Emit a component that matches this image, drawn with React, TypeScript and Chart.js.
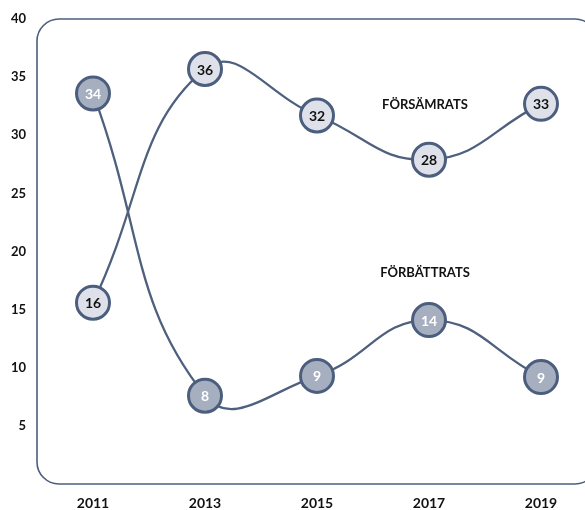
import React, { useEffect, useRef } from "react";
import { Chart, registerables } from "chart.js";
Chart.register(...registerables);

const years = ["2011", "2013", "2015", "2017", "2019"];
const forsamrats = [15.6, 35.7, 31.7, 27.9, 32.7];
const forbattrats = [33.6, 7.6, 9.3, 14.1, 9.2];
const seriesNames = ["FÖRSÄMRATS", "FÖRBÄTTRATS"];
const seriesLabelAnchor = [
  { xIndex: 3, y: 32.6 },
  { xIndex: 3, y: 18.2 },
];
const yMin = 0;
const yMax = 40;
const yStep = 5;

const LINE = "#4f607e";
const BORDER = "#4c5e7e";
const LIGHT = "#dee1e9";
const DARK = "#a6afbf";
const FONT = "Lato, 'Open Sans', sans-serif";

const framePlugin = {
  id: "frame",
  beforeDatasetsDraw(chart: any) {
    const { ctx, chartArea } = chart;
    const { left, top, right, bottom } = chartArea;
    ctx.save();
    ctx.strokeStyle = BORDER;
    ctx.lineWidth = 1.6;
    ctx.beginPath();
    ctx.roundRect(left, top, right - left, bottom - top, 22);
    ctx.stroke();
    ctx.restore();
  },
};

const labelPlugin = {
  id: "valueLabels",
  afterDatasetsDraw(chart: any) {
    const { ctx } = chart;
    ctx.save();
    ctx.textAlign = "center";
    ctx.textBaseline = "middle";
    chart.data.datasets.forEach((ds: any, i: number) => {
      const meta = chart.getDatasetMeta(i);
      ctx.font = `bold 14px ${FONT}`;
      ctx.fillStyle = i === 0 ? "#111111" : "#ffffff";
      meta.data.forEach((pt: any, j: number) => {
        ctx.fillText(String(Math.round(ds.data[j])), pt.x, pt.y + 1);
      });
    });
    const xs = chart.scales.x;
    const ys = chart.scales.y;
    ctx.fillStyle = "#111111";
    ctx.font = `bold 13px ${FONT}`;
    seriesNames.forEach((name, i) => {
      const a = seriesLabelAnchor[i];
      ctx.fillText(name, xs.getPixelForValue(a.xIndex) - 4, ys.getPixelForValue(a.y));
    });
    ctx.restore();
  },
};

export default function App() {
  const ref = useRef<HTMLCanvasElement>(null);
  useEffect(() => {
    if (!ref.current) return;
    const chart = new Chart(ref.current, {
      type: "line",
      data: {
        labels: years,
        datasets: [
          {
            label: seriesNames[0],
            data: forsamrats,
            borderColor: LINE,
            borderWidth: 2.3,
            tension: 0.45,
            pointRadius: 16.5,
            pointBorderWidth: 3,
            pointBorderColor: BORDER,
            pointBackgroundColor: LIGHT,
            clip: false,
          },
          {
            label: seriesNames[1],
            data: forbattrats,
            borderColor: LINE,
            borderWidth: 2.3,
            tension: 0.45,
            pointRadius: 16.5,
            pointBorderWidth: 3,
            pointBorderColor: BORDER,
            pointBackgroundColor: DARK,
            clip: false,
          },
        ],
      },
      options: {
        animation: false,
        responsive: false,
        layout: { autoPadding: false, padding: { top: 19, right: 13, left: 0, bottom: 0 } },
        plugins: { legend: { display: false }, tooltip: { enabled: false } },
        scales: {
          x: {
            offset: true,
            grid: { display: false, drawTicks: false },
            border: { display: false },
            ticks: { color: "#111", font: { family: FONT, size: 14, weight: "bold" }, padding: 11 },
            afterFit(s: any) {
              s.height = 26;
              s.paddingLeft = 0;
              s.paddingRight = 0;
            },
          },
          y: {
            min: yMin,
            max: yMax,
            grid: { display: false, drawTicks: false },
            border: { display: false },
            ticks: {
              stepSize: yStep,
              color: "#111",
              font: { family: FONT, size: 13, weight: "bold" },
              padding: 11,
              callback: (v: any) => (v === 0 ? "" : String(v)),
            },
            afterFit(s: any) {
              s.width = 37;
              s.paddingTop = 0;
              s.paddingBottom = 0;
            },
          },
        },
      },
      plugins: [framePlugin, labelPlugin],
    });
    return () => chart.destroy();
  }, []);
  return (
    <div style={{ position: "fixed", left: 0, top: 0, width: 610, height: 510, overflow: "hidden", background: "#fff" }}>
      <canvas ref={ref} width={610} height={510} style={{ display: "block", width: 610, height: 510 }} />
    </div>
  );
}
